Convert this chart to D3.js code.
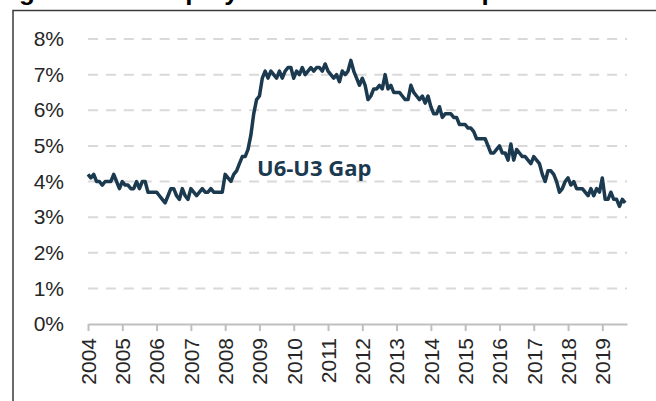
<!DOCTYPE html>
<html>
<head>
<meta charset="utf-8">
<script src="https://cdn.jsdelivr.net/npm/d3@7"></script>
<style>
  body { margin: 0; background: #fff; }
  svg { display: block; }
  .tick text { font-family: "Liberation Sans", Arial, sans-serif; }
</style>
</head>
<body>
<div id="chart"></div>
<script>
// data: U6 minus U3, monthly, Jan 2004 - Sep 2019 (percentage points)
var startYear = 2004;
var gap = [
  4.2, 4.1, 4.2, 4.0, 4.0, 3.9, 4.0, 4.0, 4.0, 4.2, 4.0, 3.8,   // 2004
  4.0, 3.9, 3.9, 3.8, 3.8, 4.0, 3.8, 4.0, 4.0, 3.7, 3.7, 3.7,   // 2005
  3.7, 3.6, 3.5, 3.4, 3.6, 3.8, 3.8, 3.6, 3.5, 3.8, 3.6, 3.5,   // 2006
  3.8, 3.7, 3.6, 3.7, 3.8, 3.7, 3.7, 3.8, 3.7, 3.7, 3.7, 3.7,   // 2007
  4.2, 4.1, 4.0, 4.2, 4.3, 4.5, 4.7, 4.7, 4.9, 5.3, 5.9, 6.3,   // 2008
  6.4, 6.9, 7.1, 6.9, 7.1, 7.0, 6.9, 7.1, 6.9, 7.1, 7.2, 7.2,   // 2009
  6.9, 7.1, 7.0, 7.2, 7.0, 7.1, 7.2, 7.1, 7.2, 7.2, 7.1, 7.3,   // 2010
  7.1, 7.0, 6.9, 7.0, 6.8, 7.1, 7.0, 7.1, 7.4, 7.1, 6.9, 6.7,   // 2011
  6.9, 6.7, 6.3, 6.4, 6.6, 6.6, 6.7, 6.6, 7.0, 6.6, 6.7, 6.5,   // 2012
  6.5, 6.5, 6.4, 6.3, 6.3, 6.7, 6.5, 6.4, 6.3, 6.4, 6.2, 6.4,   // 2013
  6.1, 5.9, 5.9, 6.1, 5.8, 5.9, 5.9, 5.9, 5.8, 5.8, 5.6, 5.6,   // 2014
  5.6, 5.5, 5.5, 5.4, 5.2, 5.2, 5.2, 5.2, 5.0, 4.8, 4.8, 4.9,   // 2015
  5.0, 4.8, 4.8, 4.6, 5.05, 4.6, 4.9, 4.8, 4.7, 4.7, 4.6, 4.5,  // 2016
  4.7, 4.6, 4.5, 4.2, 4.0, 4.3, 4.3, 4.2, 4.0, 3.7, 3.8, 4.0,   // 2017
  4.1, 3.9, 4.0, 3.8, 3.8, 3.8, 3.7, 3.6, 3.8, 3.6, 3.8, 3.7,   // 2018
  4.1, 3.5, 3.5, 3.7, 3.5, 3.5, 3.3, 3.5, 3.4                   // 2019
];
var yTicks = [0, 1, 2, 3, 4, 5, 6, 7, 8];
var xTickYears = d3.range(2004, 2020);
var seriesLabel = "U6-U3 Gap";
var titleText = "Figure 4: Unemployment Rate Index Gap";

//styles
var width = 656, height = 401;
var lineColor = "#1b3a50";
var gridColor = "#d9d9d9";
var axisColor = "#bfbfbf";
var textColor = "#262626";

var svg = d3.select("#chart").append("svg")
  .attr("width", width)
  .attr("height", height);

// title sits above the crop, only its descenders show
svg.append("text")
  .attr("x", -4)
  .attr("y", 0)
  .attr("font-family", "Liberation Sans, Arial, sans-serif")
  .attr("font-weight", "bold")
  .attr("font-size", 26)
  .attr("fill", "#000")
  .text(titleText);

// frame
svg.append("path")
  .attr("d", "M13," + height + "V10.5H" + width)
  .attr("fill", "none")
  .attr("stroke", "#3a3a3a")
  .attr("stroke-width", 1.5);

var x = d3.scaleLinear().domain([2004, 2019.72]).range([88, 627]);
var y = d3.scaleLinear().domain([0, 8]).range([324, 39]);

// grid
svg.append("g").selectAll("line")
  .data(yTicks.filter(function (d) { return d > 0; }))
  .join("line")
  .attr("x1", x.range()[0])
  .attr("x2", x.range()[1])
  .attr("y1", function (d) { return y(d); })
  .attr("y2", function (d) { return y(d); })
  .attr("stroke", gridColor)
  .attr("stroke-width", 2)
  .attr("stroke-dasharray", "10,7.9");

// y axis labels
var yAxis = svg.append("g")
  .attr("transform", "translate(" + 66 + ",0)")
  .call(d3.axisLeft(y).tickValues(yTicks).tickSize(0).tickPadding(2)
    .tickFormat(function (d) { return d + "%"; }));
yAxis.select(".domain").remove();
yAxis.selectAll("text")
  .attr("font-size", 21)
  .attr("fill", textColor);

// x axis
var xAxis = svg.append("g")
  .attr("transform", "translate(0," + y(0) + ")")
  .call(d3.axisBottom(x).tickValues(xTickYears).tickSize(7).tickSizeOuter(0)
    .tickFormat(function (d) { return String(d); }));
xAxis.select(".domain").attr("stroke", axisColor).attr("stroke-width", 2);
xAxis.selectAll(".tick line").attr("stroke", axisColor).attr("stroke-width", 2);
xAxis.selectAll("text")
  .attr("font-size", 21)
  .attr("fill", textColor)
  .attr("transform", "rotate(-90)")
  .attr("text-anchor", "end")
  .attr("dy", "0.35em")
  .attr("x", -14)
  .attr("y", 0);

// series
var points = gap.map(function (v, i) { return { t: startYear + i / 12, v: v }; });
svg.append("path")
  .datum(points)
  .attr("fill", "none")
  .attr("stroke", lineColor)
  .attr("stroke-width", 3.5)
  .attr("stroke-linejoin", "round")
  .attr("d", d3.line()
    .x(function (d) { return x(d.t); })
    .y(function (d) { return y(d.v); }));

svg.append("text")
  .attr("x", 257)
  .attr("y", 176)
  .attr("font-family", "Open Sans, sans-serif")
  .attr("font-weight", "bold")
  .attr("font-size", 22)
  .attr("fill", lineColor)
  .text(seriesLabel);
</script>
</body>
</html>
